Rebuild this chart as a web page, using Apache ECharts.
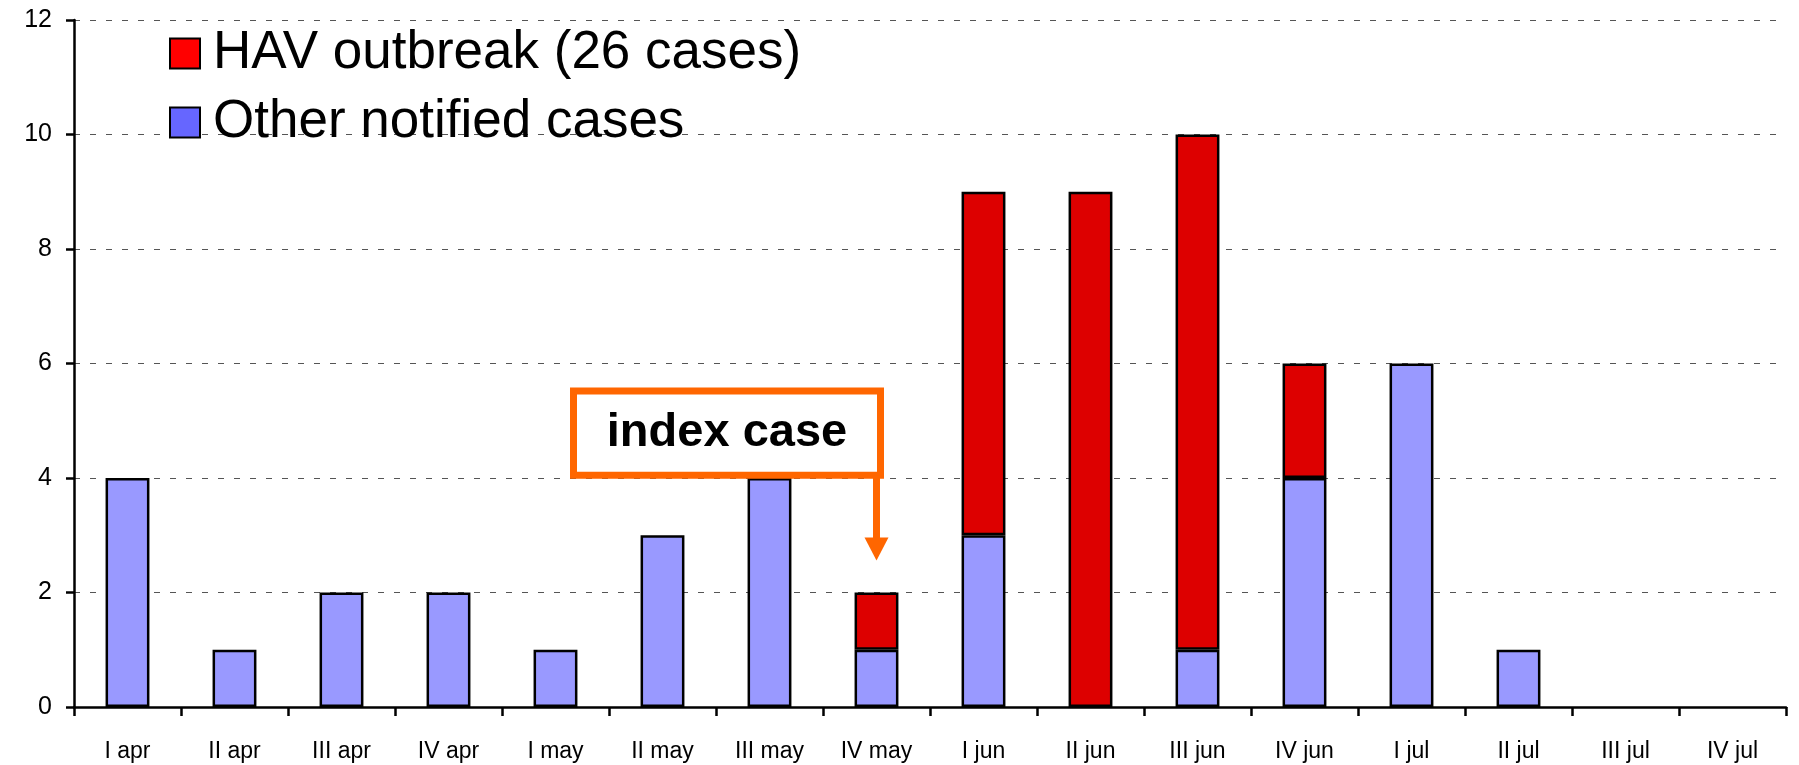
<!DOCTYPE html>
<html>
<head>
<meta charset="utf-8">
<script src="https://cdn.jsdelivr.net/npm/echarts@6/dist/echarts.min.js"></script>
<style>
  html, body { margin: 0; padding: 0; background: #fff; }
  #main { width: 1799px; height: 765px; }
</style>
</head>
<body>
<div id="main"></div>
<script>
// weeks (I-IV) of each month
const weeks = ['I apr', 'II apr', 'III apr', 'IV apr', 'I may', 'II may', 'III may', 'IV may',
  'I jun', 'II jun', 'III jun', 'IV jun', 'I jul', 'II jul', 'III jul', 'IV jul'];
const otherCases = [4, 1, 2, 2, 1, 3, 4, 1, 3, 0, 1, 4, 6, 1, 0, 0];
const havCases = [0, 0, 0, 0, 0, 0, 0, 1, 6, 9, 9, 2, 0, 0, 0, 0];
const yTicks = [0, 2, 4, 6, 8, 10, 12];

const FONT = "'Liberation Sans', Arial, sans-serif";
const ORANGE = '#FF6600';

// empty weeks get no bar at all (no border line on the axis)
const noZero = arr => arr.map(v => (v === 0 ? '-' : v));

const chartDom = document.getElementById('main');
const myChart = echarts.init(chartDom);

const option = {
  animation: false,
  textStyle: { fontFamily: FONT },
  grid: { left: 74, right: 13, top: 20, bottom: 58 },
  legend: {
    orient: 'vertical',
    left: 164,
    top: 22,
    itemWidth: 30,
    itemHeight: 30,
    itemGap: 16,
    icon: 'rect',
    textStyle: { fontSize: 53, color: '#000', fontFamily: FONT, padding: [0, 0, 0, 8] },
    data: [
      { name: 'HAV outbreak (26 cases)', itemStyle: { color: '#FF0000', borderColor: '#000', borderWidth: 2 } },
      { name: 'Other notified cases', itemStyle: { color: '#6666FF', borderColor: '#000', borderWidth: 2 } }
    ]
  },
  xAxis: {
    type: 'category',
    data: weeks,
    axisLine: { lineStyle: { color: '#000', width: 2.5 } },
    axisTick: { show: true, length: 9, lineStyle: { color: '#000', width: 2.5 } },
    axisLabel: { color: '#000', fontSize: 23, margin: 33 }
  },
  yAxis: {
    type: 'value',
    min: yTicks[0],
    max: yTicks[yTicks.length - 1],
    interval: 2,
    axisLine: { show: true, lineStyle: { color: '#000', width: 2.5 } },
    axisTick: { show: true, length: 8, lineStyle: { color: '#000', width: 2.5 } },
    axisLabel: { color: '#000', fontSize: 25, margin: 22 },
    splitLine: { lineStyle: { color: '#555', type: [6, 10], width: 1 } }
  },
  series: [
    {
      name: 'Other notified cases',
      type: 'bar',
      stack: 'cases',
      data: noZero(otherCases),
      barWidth: '41%',
      itemStyle: { color: '#9999FF', borderColor: '#000', borderWidth: 2.5 }
    },
    {
      name: 'HAV outbreak (26 cases)',
      type: 'bar',
      stack: 'cases',
      data: noZero(havCases),
      barWidth: '41%',
      itemStyle: { color: '#DD0000', borderColor: '#000', borderWidth: 2.5 }
    }
  ]
};

myChart.setOption(option);

// annotation: box + arrow pointing at the index case week
function drawAnnotation() {
  const tip = myChart.convertToPixel({ gridIndex: 0 }, ['IV may', 2.56]);
  const boxTop = myChart.convertToPixel({ gridIndex: 0 }, ['IV may', 5.52])[1];
  const boxBottom = myChart.convertToPixel({ gridIndex: 0 }, ['IV may', 4.05])[1];
  const boxRight = tip[0] + 4;
  const boxLeft = boxRight - 307;
  myChart.setOption({
    graphic: [
      {
        type: 'rect',
        shape: { x: boxLeft, y: boxTop, width: boxRight - boxLeft, height: boxBottom - boxTop },
        style: { fill: '#fff', stroke: ORANGE, lineWidth: 7 },
        z: 100
      },
      {
        type: 'text',
        x: (boxLeft + boxRight) / 2,
        y: (boxTop + boxBottom) / 2,
        style: {
          text: 'index case', fill: '#000', fontSize: 47, fontWeight: 'bold', fontFamily: FONT,
          align: 'center', verticalAlign: 'middle'
        },
        z: 101
      },
      {
        type: 'line',
        shape: { x1: tip[0], y1: boxBottom, x2: tip[0], y2: tip[1] - 20 },
        style: { stroke: ORANGE, lineWidth: 7 },
        z: 100
      },
      {
        type: 'polygon',
        shape: { points: [[tip[0] - 12, tip[1] - 23], [tip[0] + 12, tip[1] - 23], [tip[0], tip[1]]] },
        style: { fill: ORANGE },
        z: 100
      }
    ]
  });
}
drawAnnotation();
</script>
</body>
</html>
